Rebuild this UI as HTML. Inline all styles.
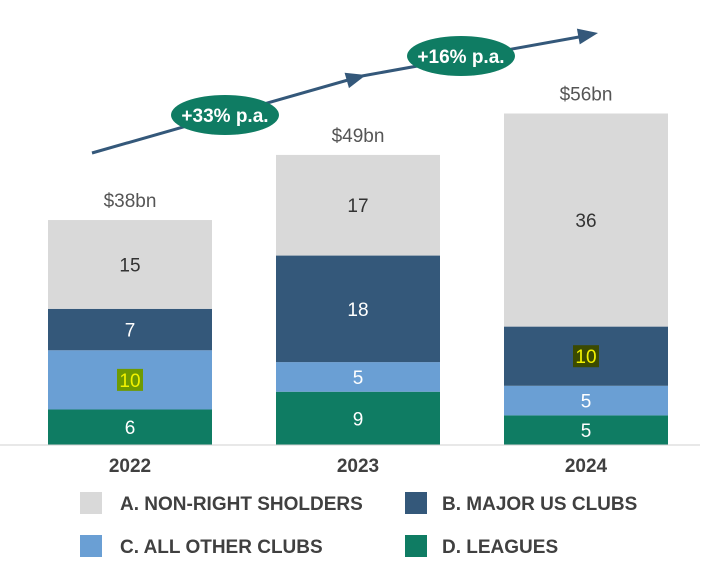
<!DOCTYPE html>
<html><head><meta charset="utf-8"><style>
body{margin:0;background:#fff;font-family:"Liberation Sans",sans-serif}
</style></head><body>
<svg width="712" height="574" xmlns="http://www.w3.org/2000/svg">
<g id="bars"></g>
<line x1="0" y1="445" x2="700" y2="445" stroke="#d0d0d0" stroke-width="1"/>
<g>
<polyline points="92,153 362,76 590,35" fill="none" stroke="#34587a" stroke-width="3"/>
<polygon points="0,0 -20,-8 -20,8" fill="#34587a" transform="translate(598,33) rotate(-10.2)"/>
<polygon points="0,0 -20,-8 -20,8" fill="#34587a" transform="translate(366,75) rotate(-15.9)"/>
</g>
<g>
<ellipse cx="225" cy="115" rx="54" ry="20" fill="#0f7c63"/>
<text x="225" y="122" text-anchor="middle" font-size="19" font-weight="bold" fill="#fff">+33% p.a.</text>
</g>
<g>
<ellipse cx="461" cy="56" rx="54" ry="20" fill="#0f7c63"/>
<text x="461" y="63" text-anchor="middle" font-size="19" font-weight="bold" fill="#fff">+16% p.a.</text>
</g>
<g id="legend" font-size="19" fill="#333" font-weight="bold">
<rect x="80" y="492" width="22" height="22" fill="#d9d9d9"/>
<text x="120" y="510" fill="#404040">A. NON-RIGHT SHOLDERS</text>
<rect x="405" y="492" width="22" height="22" fill="#34587a"/>
<text x="442" y="510" fill="#404040">B. MAJOR US CLUBS</text>
<rect x="80" y="535" width="22" height="22" fill="#6a9fd4"/>
<text x="120" y="553" fill="#404040">C. ALL OTHER CLUBS</text>
<rect x="405" y="535" width="22" height="22" fill="#0f7c63"/>
<text x="442" y="553" fill="#404040">D. LEAGUES</text>
</g>
</svg>
<script>
const years = ["2022","2023","2024"];
const leagues = [6,9,5];
const otherClubs = [10,5,5];
const majorUS = [7,18,10];
const nonRight = [15,17,36];
const totals = ["$38bn","$49bn","$56bn"];
const highlighted = [[1,0],[2,2]]; // [seriesIndex, yearIndex]
const ns="http://www.w3.org/2000/svg";
const g=document.getElementById('bars');
const baseY=445, pxPer=5.92, barW=164;
const xPos=i=>48+i*228;
const yS=v=>baseY-v*pxPer;
const series=[
 {name:'leagues',vals:leagues,color:'#0f7c63',txt:'#fff'},
 {name:'other-clubs',vals:otherClubs,color:'#6a9fd4',txt:'#fff'},
 {name:'major-us',vals:majorUS,color:'#34587a',txt:'#fff'},
 {name:'non-right',vals:nonRight,color:'#d9d9d9',txt:'#333'}];
function mk(tag,attrs){const e=document.createElementNS(ns,tag);for(const k in attrs)e.setAttribute(k,attrs[k]);return e;}
years.forEach((yr,i)=>{
 let cum=0;
 series.forEach((s,si)=>{
  const v=s.vals[i];const y0=yS(cum),y1=yS(cum+v);cum+=v;
  const r=mk('rect',{x:xPos(i),y:y1,width:barW,height:y0-y1,fill:s.color});
  
  
  g.appendChild(r);
  const cy=(y0+y1)/2;
  const hl=highlighted.some(h=>h[0]===si&&h[1]===i);
  if(hl){
   const b=mk('rect',{x:xPos(i)+barW/2-13,y:cy-11,width:26,height:22,fill:si===1?'#6f9a00':'#3b4a00'});
   
   
   g.appendChild(b);
  }
  const t=mk('text',{x:xPos(i)+barW/2,y:cy+7,'text-anchor':'middle','font-size':19,fill:hl?'#f2f200':s.txt});
  t.textContent=v;
  
  
  g.appendChild(t);
 });
 const tt=mk('text',{x:xPos(i)+barW/2,y:yS(cum)-13,'text-anchor':'middle','font-size':19,fill:'#555'});
 tt.textContent=totals[i];
 
 
 g.appendChild(tt);
 const xl=mk('text',{x:xPos(i)+barW/2,y:472,'text-anchor':'middle','font-size':19,'font-weight':'bold',fill:'#404040'});
 xl.textContent=yr;
 
 
 g.appendChild(xl);
});
</script>
</body></html>
